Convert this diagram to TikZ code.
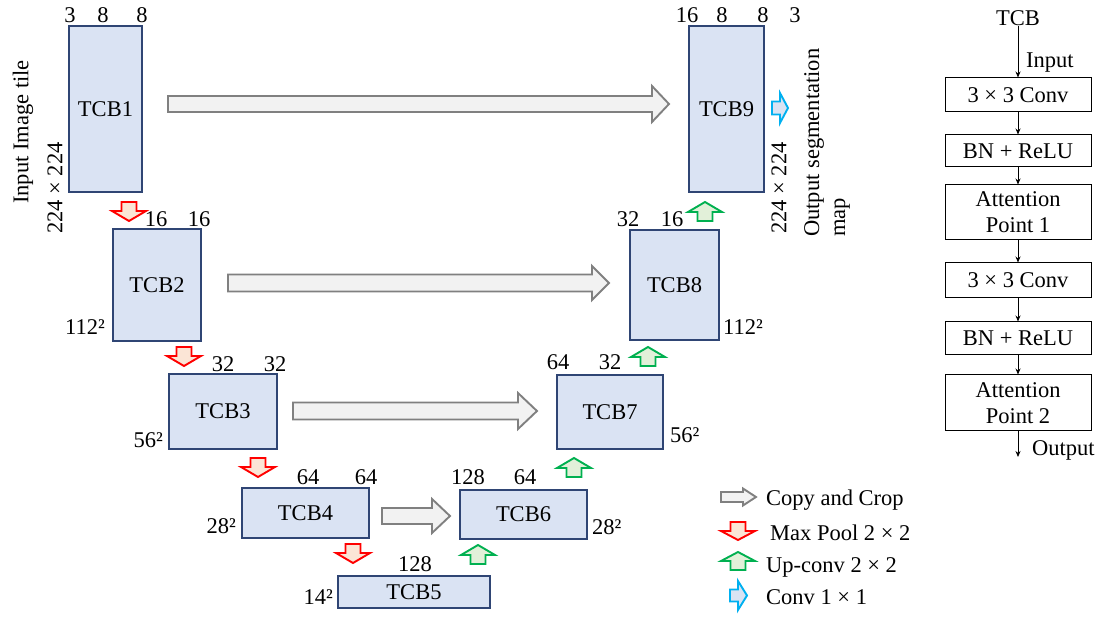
\documentclass[tikz,border=0pt]{standalone}
\usepackage{fontspec}
\setmainfont{Liberation Serif}
\usetikzlibrary{arrows.meta}
\definecolor{tcbfill}{HTML}{DAE3F3}
\definecolor{tcbdraw}{HTML}{2F4574}
\definecolor{copyfill}{HTML}{F2F2F2}
\definecolor{copydraw}{HTML}{808080}
\definecolor{poolfill}{HTML}{FBE5D6}
\definecolor{pooldraw}{HTML}{FF0000}
\definecolor{upfill}{HTML}{E2F0D9}
\definecolor{updraw}{HTML}{00B050}
\definecolor{convfill}{HTML}{DAE3F3}
\definecolor{convdraw}{HTML}{00B0F0}
\begin{document}
\begin{tikzpicture}[x=1pt,y=-1pt,
 every node/.style={font=\fontsize{22.5pt}{26pt}\selectfont, inner sep=0pt},
 tcb/.style={draw=tcbdraw, fill=tcbfill, line width=1.7pt},
 lbl/.style={anchor=base},
 copyarr/.style={draw=copydraw, fill=copyfill, line width=1.9pt},
 poolarr/.style={draw=pooldraw, fill=poolfill, line width=1.9pt},
 uparr/.style={draw=updraw, fill=upfill, line width=1.9pt},
 convarr/.style={draw=convdraw, fill=convfill, line width=1.9pt},
 blk/.style={draw=black, line width=1pt, minimum width=146pt, align=center},
 flow/.style={line width=0.8pt, -{Stealth[length=6pt,width=5pt]}},
 pics/barrow/.style n args={4}{code={\path[pic actions] (0,-#2) -- ({#1-#4},-#2) -- ({#1-#4},-#3) -- (#1,0) -- ({#1-#4},#3) -- ({#1-#4},#2) -- (0,#2) -- cycle;}}
]
\useasboundingbox (0,0) rectangle (1104,617);

% TCB blocks
\node[tcb, minimum width=73pt, minimum height=166pt] (t1) at (105.5,109) {TCB1};
\node[tcb, minimum width=88pt, minimum height=112pt] (t2) at (157,285) {TCB2};
\node[tcb, minimum width=108pt, minimum height=75pt] (t3) at (223,411.5) {TCB3};
\node[tcb, minimum width=127pt, minimum height=50pt] (t4) at (305.5,513) {TCB4};
\node[tcb, minimum width=152pt, minimum height=32pt] (t5) at (414,592) {TCB5};
\node[tcb, minimum width=127pt, minimum height=49pt] (t6) at (523.5,514.5) {TCB6};
\node[tcb, minimum width=106pt, minimum height=74pt] (t7) at (610,412) {TCB7};
\node[tcb, minimum width=89pt, minimum height=110pt] (t8) at (674.5,285) {TCB8};
\node[tcb, minimum width=75pt, minimum height=166pt] (t9) at (726.5,109) {TCB9};

% channel labels
\node[lbl] (n1a) at (70,23) {3};
\node[lbl] (n1b) at (103,23) {8};
\node[lbl] (n1c) at (142,23) {8};
\node[lbl] (n2a) at (156,227) {16};
\node[lbl] (n2b) at (199,227) {16};
\node[lbl] (n3a) at (223,372) {32};
\node[lbl] (n3b) at (275,372) {32};
\node[lbl] (n4a) at (308,485) {64};
\node[lbl] (n4b) at (366,485) {64};
\node[lbl] (n5a) at (415,572) {128};
\node[lbl] (n6a) at (468,485) {128};
\node[lbl] (n6b) at (525,485) {64};
\node[lbl] (n7a) at (558,370) {64};
\node[lbl] (n7b) at (610,370) {32};
\node[lbl] (n8a) at (628,227) {32};
\node[lbl] (n8b) at (672,227) {16};
\node[lbl] (n9a) at (687,23) {16};
\node[lbl] (n9b) at (722,23) {8};
\node[lbl] (n9c) at (763,23) {8};
\node[lbl] (n9d) at (795,23) {3};

% size labels
\node[anchor=base east] (s2) at (105,335) {112²};
\node[anchor=base east] (s3) at (163,448) {56²};
\node[anchor=base east] (s4) at (236,533) {28²};
\node[anchor=base east] (s5) at (333,604) {14²};
\node[anchor=base west] (s6) at (592,535) {28²};
\node[anchor=base west] (s7) at (670,443) {56²};
\node[anchor=base west] (s8) at (723,335) {112²};

\node[rotate=90] (inlbl) at (23,132) {Input Image tile};
\node[rotate=90] (insz) at (55,188) {224 × 224};
\node[rotate=90] (outsz) at (779,188) {224 × 224};
\node[rotate=90, align=left, anchor=north west] (outlbl) at (804,237) {Output segmentation\\map};

% copy and crop arrows
\pic[copyarr] at (168,104) {barrow={501}{8}{18}{17}};
\pic[copyarr] at (228,283) {barrow={381}{8.5}{17}{17}};
\pic[copyarr] at (293,411) {barrow={244}{8.5}{18}{19}};
\pic[copyarr] at (382,516) {barrow={68}{8}{17}{18}};

% max pool arrows
\pic[poolarr, rotate=-90] at (129,202) {barrow={19}{7.5}{17}{10}};
\pic[poolarr, rotate=-90] at (184,347) {barrow={19}{7.5}{17}{10}};
\pic[poolarr, rotate=-90] at (258,458) {barrow={19}{7.5}{17}{10}};
\pic[poolarr, rotate=-90] at (353,544) {barrow={19}{7.5}{17}{10}};

% up-conv arrows
\pic[uparr, rotate=90] at (478,564) {barrow={19}{7.5}{17}{10}};
\pic[uparr, rotate=90] at (574,477) {barrow={19}{7.5}{17}{10}};
\pic[uparr, rotate=90] at (648,366) {barrow={19}{7.5}{17}{10}};
\pic[uparr, rotate=90] at (705,221) {barrow={19}{7.5}{17}{10}};

% conv 1x1
\pic[convarr] at (772,108) {barrow={16}{6.5}{15}{8}};

% legend
\pic[copyarr] at (721,497) {barrow={35}{5}{8.5}{13}};
\pic[poolarr, rotate=-90] at (738,522) {barrow={18}{7.5}{17}{9}};
\pic[uparr, rotate=90] at (738,570) {barrow={18}{7.5}{17}{9}};
\pic[convarr] at (730,595.5) {barrow={17}{6}{14.5}{9}};
\node[anchor=west] (lg1) at (766,500) {Copy and Crop};
\node[anchor=west] (lg2) at (770,533) {Max Pool 2 × 2};
\node[anchor=west] (lg3) at (766,567) {Up-conv 2 × 2};
\node[anchor=west] (lg4) at (766,597) {Conv 1 × 1};

% right panel
\node (rtcb) at (1018,18) {TCB};
\node[blk, minimum height=34pt] (rb1) at (1018,95) {3 × 3 Conv};
\node[blk, minimum height=32pt] (rb2) at (1018,151) {BN + ReLU};
\node[blk, minimum height=55pt] (rb3) at (1018,212.5) {Attention\\Point 1};
\node[blk, minimum height=35pt] (rb4) at (1018,280.5) {3 × 3 Conv};
\node[blk, minimum height=33pt] (rb5) at (1018,338.5) {BN + ReLU};
\node[blk, minimum height=56pt] (rb6) at (1018,403) {Attention\\Point 2};
\node[anchor=west] (rin) at (1026,63) {Input};
\node[anchor=west] (rout) at (1032,450) {Output};
\coordinate (rend) at (1018,457);
\draw[flow] (rtcb) -- (rb1);
\draw[flow] (rb1) -- (rb2);
\draw[flow] (rb2) -- (rb3);
\draw[flow] (rb3) -- (rb4);
\draw[flow] (rb4) -- (rb5);
\draw[flow] (rb5) -- (rb6);
\draw[flow] (rb6) -- (rend);
\end{tikzpicture}
\end{document}
